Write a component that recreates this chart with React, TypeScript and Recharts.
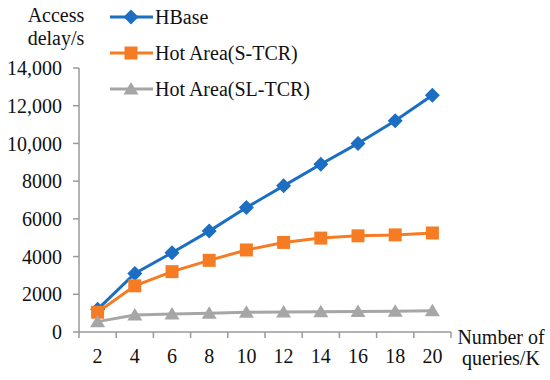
import React from 'react';
import { LineChart, Line, XAxis, YAxis } from 'recharts';

const queries = [2, 4, 6, 8, 10, 12, 14, 16, 18, 20];
const hbase = [1200, 3100, 4200, 5350, 6600, 7750, 8900, 10000, 11200, 12550];
const hotAreaS = [1050, 2450, 3200, 3800, 4350, 4750, 4980, 5100, 5150, 5250];
const hotAreaSL = [550, 900, 960, 990, 1050, 1060, 1080, 1090, 1100, 1130];
const yTicks = [0, 2000, 4000, 6000, 8000, 10000, 12000, 14000];

const FONT = "'Liberation Serif', 'DejaVu Serif', serif";
const AXIS = '#999999';

const CHART_W = 550;
const Y_AXIS_W = 79;
const MARGIN_R = 99;
// half of one category band, for the tick marks between categories
const HALF_BAND = (CHART_W - Y_AXIS_W - MARGIN_R) / queries.length / 2;

type Shape = 'diamond' | 'square' | 'triangle';

const series: { key: string; name: string; color: string; shape: Shape; values: number[] }[] = [
  { key: 'hbase', name: 'HBase', color: '#1b6ec2', shape: 'diamond', values: hbase },
  { key: 's', name: 'Hot Area(S-TCR)', color: '#f57c22', shape: 'square', values: hotAreaS },
  { key: 'sl', name: 'Hot Area(SL-TCR)', color: '#a6a6a6', shape: 'triangle', values: hotAreaSL },
];

const data = queries.map((q, i) => {
  const row: Record<string, number> = { q };
  series.forEach(s => { row[s.key] = s.values[i]; });
  return row;
});

const Marker = ({ cx, cy, shape, color }: { cx: number; cy: number; shape: Shape; color: string }) => {
  if (shape === 'diamond') {
    return <polygon points={`${cx},${cy - 7.5} ${cx + 7.5},${cy} ${cx},${cy + 7.5} ${cx - 7.5},${cy}`} fill={color} />;
  }
  if (shape === 'square') {
    return <rect x={cx - 6.5} y={cy - 6.5} width={13} height={13} fill={color} />;
  }
  return <polygon points={`${cx},${cy - 7} ${cx + 7.5},${cy + 5.5} ${cx - 7.5},${cy + 5.5}`} fill={color} />;
};

// label plus the tick mark on the band boundary to its left (and right for the last one)
const XTick = (p: any) => {
  const v = p.payload.value;
  const last = v === queries[queries.length - 1];
  return (
    <g>
      <line x1={p.x - HALF_BAND} x2={p.x - HALF_BAND} y1={p.y} y2={p.y + 6} stroke={AXIS} strokeWidth={1.5} />
      {last && <line x1={p.x + HALF_BAND} x2={p.x + HALF_BAND} y1={p.y} y2={p.y + 6} stroke={AXIS} strokeWidth={1.5} />}
      <text x={p.x} y={p.y + 31} textAnchor="middle" fontSize={20} fontFamily={FONT} fill="#111">
        {v}
      </text>
    </g>
  );
};

const fmt = (v: number) => (v >= 10000 ? v.toLocaleString('en-US') : String(v));

export default function App() {
  return (
    <div style={{ position: 'absolute', left: 0, top: 0, width: 550, height: 380, fontFamily: FONT, color: '#111' }}>
      <LineChart width={CHART_W} height={380} data={data} margin={{ top: 68, right: MARGIN_R, bottom: 0, left: 0 }}>
        <XAxis
          type="number"
          dataKey="q"
          domain={[1, 21]}
          ticks={queries}
          interval={0}
          tick={XTick}
          tickSize={0}
          tickMargin={0}
          tickLine={false}
          height={48}
          axisLine={{ stroke: AXIS, strokeWidth: 1.5 }}
        />
        <YAxis
          type="number"
          domain={[0, 14000]}
          ticks={yTicks}
          interval={0}
          width={Y_AXIS_W}
          tickSize={6}
          tickMargin={11}
          tickFormatter={fmt}
          axisLine={{ stroke: AXIS, strokeWidth: 1.5 }}
          tickLine={{ stroke: AXIS, strokeWidth: 1.5 }}
          tick={{ fill: '#111', fontSize: 20, fontFamily: FONT }}
        />
        {series.map(s => (
          <Line
            key={s.key}
            dataKey={s.key}
            name={s.name}
            stroke={s.color}
            strokeWidth={3}
            isAnimationActive={false}
            dot={(p: any) => <Marker key={`${s.key}-${p.index}`} cx={p.cx} cy={p.cy} shape={s.shape} color={s.color} />}
            activeDot={false}
          />
        ))}
      </LineChart>

      <div style={{ position: 'absolute', left: 6, top: 4, width: 100, textAlign: 'center', fontSize: 20, lineHeight: '23px' }}>
        Access<br />delay/s
      </div>
      <div style={{ position: 'absolute', left: 451, top: 327, width: 100, textAlign: 'center', fontSize: 20, lineHeight: '21px' }}>
        Number of<br />queries/K
      </div>

      {series.map((s, i) => (
        <div key={s.key} style={{ position: 'absolute', left: 109, top: 5 + i * 36, height: 24, display: 'flex', alignItems: 'center', fontSize: 20, whiteSpace: 'nowrap' }}>
          <svg width={44} height={24}>
            <line x1={1} y1={12} x2={44} y2={12} stroke={s.color} strokeWidth={3} />
            <Marker cx={22} cy={12} shape={s.shape} color={s.color} />
          </svg>
          <span style={{ marginLeft: 2 }}>{s.name}</span>
        </div>
      ))}
    </div>
  );
}
